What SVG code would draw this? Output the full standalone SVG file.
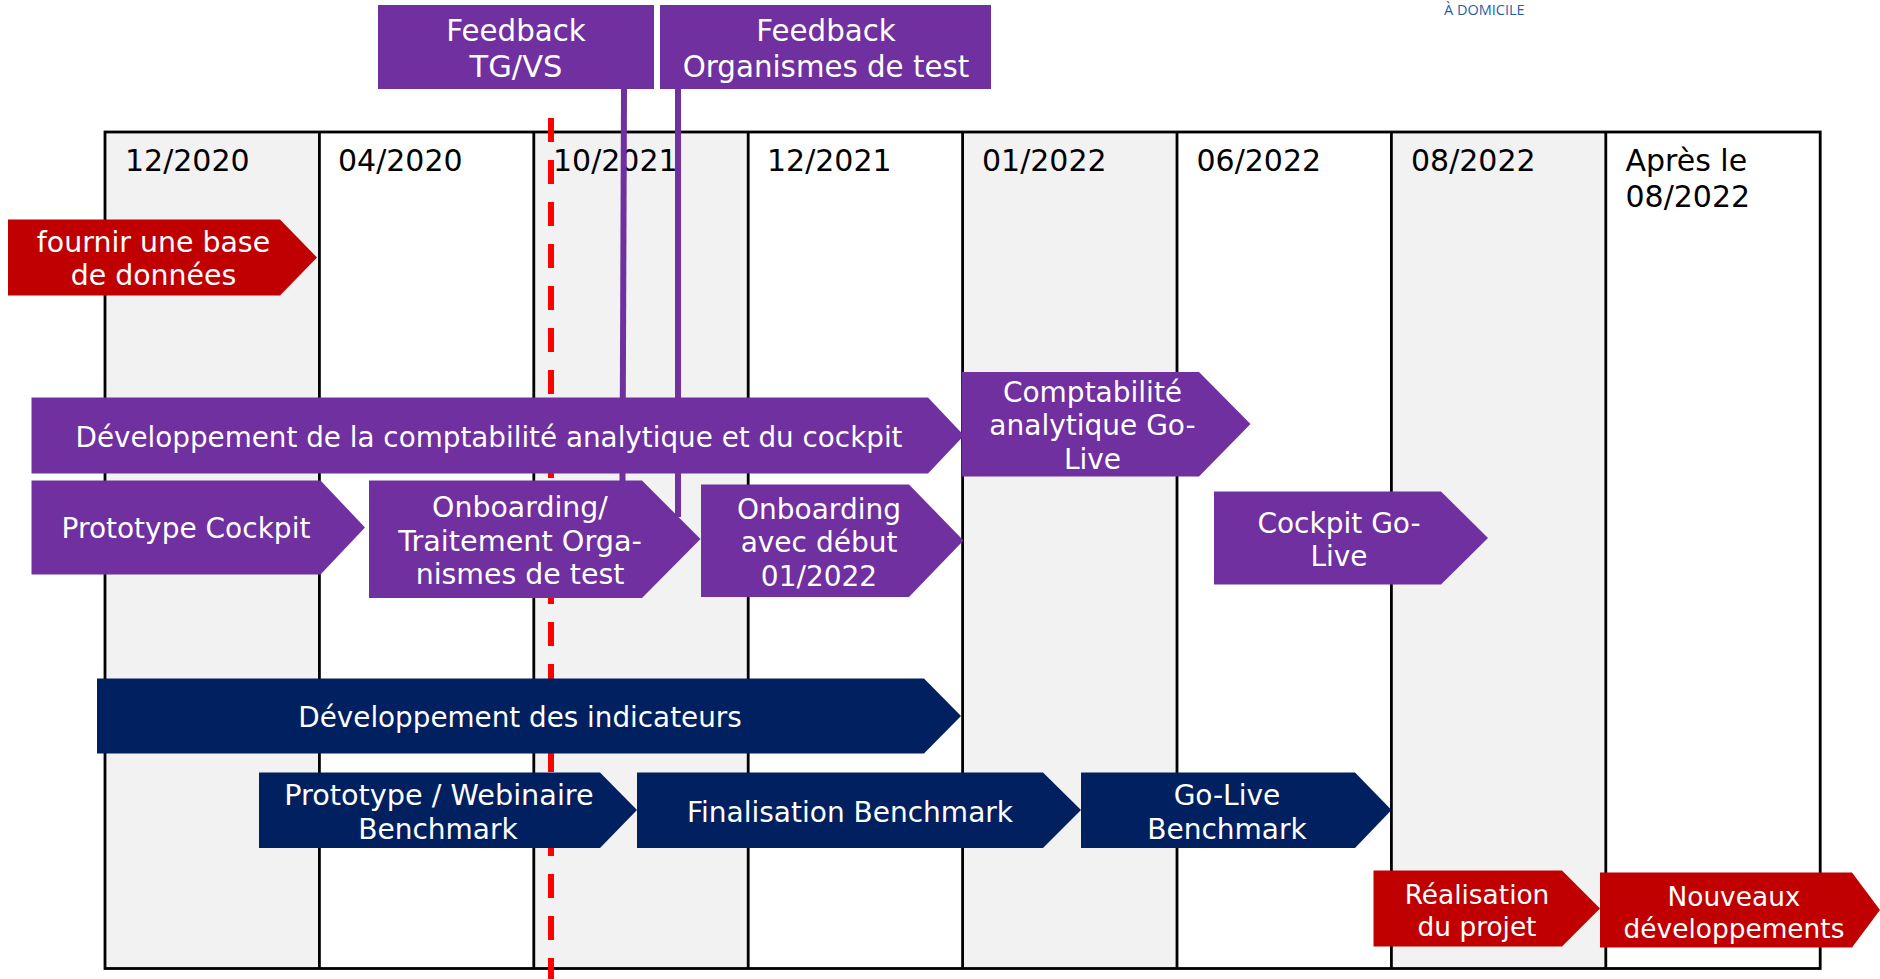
<svg xmlns="http://www.w3.org/2000/svg" width="1880" height="979" viewBox="0 0 1880 979">
<style>
text{font-family:"DejaVu Sans","Liberation Sans",sans-serif}
.d{font-size:30px;fill:#000}
.w{font-size:28px;fill:#fff;text-anchor:middle}
.s{font-size:26.4px;fill:#fff;text-anchor:middle}
.m{font-size:28.4px;fill:#fff;text-anchor:middle}
.f{font-size:29.3px;fill:#fff;text-anchor:middle}
.p{fill:#7030A0}.r{fill:#C00000}.n{fill:#002060}
.b{fill:#F2F2F2}
.g{stroke:#000;stroke-width:2.8;fill:none}
</style>
<rect width="1880" height="979" fill="#fff"/>
<text x="1444" y="15" style="font-family:'Open Sans',sans-serif;font-size:14.5px;fill:#1F5FA8">À DOMICILE</text>
<g id="grid">
<rect class="b" x="105" y="132" width="214.4" height="836.500"/>
<rect class="b" x="533.8" y="132" width="214.4" height="836.500"/>
<rect class="b" x="962.6" y="132" width="214.4" height="836.500"/>
<rect class="b" x="1391.4" y="132" width="214.4" height="836.500"/>
<rect class="g" x="105" y="132" width="1715.2" height="836.500"/>
<path class="g" d="M319.4 132V968.500M533.8 132V968.500M748.2 132V968.500M962.6 132V968.500M1177 132V968.500M1391.4 132V968.500M1605.8 132V968.500"/>
<text class="d" x="125" y="171">12/2020</text>
<text class="d" x="338" y="171">04/2020</text>
<text class="d" x="553" y="171">10/2021</text>
<text class="d" x="767" y="171">12/2021</text>
<text class="d" x="982" y="171">01/2022</text>
<text class="d" x="1196.500" y="171">06/2022</text>
<text class="d" x="1411" y="171">08/2022</text>
<text class="d" x="1625.500" y="171">Après le</text>
<text class="d" x="1625.500" y="207">08/2022</text>
</g>
<g id="connectors" fill="none">
<path id="today" d="M551 118V979" stroke="#FF0000" stroke-width="6" stroke-dasharray="24 18"/>
<path id="fb1-line" d="M624 89L622.5 482" stroke="#7030A0" stroke-width="6"/>
<path id="fb2-line" d="M678 89V517" stroke="#7030A0" stroke-width="6"/>
</g>
<g id="feedback-tg"><rect class="p" x="378" y="5" width="276" height="84"/><text class="f" x="516" y="41">Feedback</text><text class="f" style="font-size:30.500px" x="516" y="77">TG/VS</text></g>
<g id="feedback-org"><rect class="p" x="660" y="5" width="331" height="84"/><text class="f" x="826" y="41">Feedback</text><text class="f" x="826" y="77">Organismes de test</text></g>
<g id="base"><path class="r" d="M8 219.500H280L317 257.500L280 295.500H8Z"/><text class="m" x="153.500" y="251.500">fournir une base</text><text class="m" x="153.500" y="285">de données</text></g>
<g id="dev-compta"><path class="p" d="M31.500 397.500H928L964 435.500L928 473.500H31.500Z"/><text class="w" style="font-size:27.800px" x="489" y="446.500">Développement de la comptabilité analytique et du cockpit</text></g>
<g id="proto-cockpit"><path class="p" d="M31.500 480.500H320.500L365 527.500L320.500 574.500H31.500Z"/><text class="w" x="186" y="538">Prototype Cockpit</text></g>
<g id="onboarding"><path class="p" d="M369 480.500H642L700.500 539L642 598H369Z"/><text class="m" x="520" y="517">Onboarding/</text><text class="w" style="font-size:28.700px" x="520" y="550.500">Traitement Orga-</text><text class="m" x="520" y="584">nismes de test</text></g>
<g id="onboarding-2"><path class="p" d="M701 484.500H909L963.500 540.500L909 597H701Z"/><text class="w" x="819" y="518.500">Onboarding</text><text class="w" x="819" y="552">avec début</text><text class="w" x="819" y="585.500">01/2022</text></g>
<g id="compta-golive"><path class="p" d="M962 372H1199L1250.500 424L1199 476.500H962Z"/><text class="w" x="1092.500" y="401.500">Comptabilité</text><text class="w" x="1092.500" y="435">analytique Go-</text><text class="w" x="1092.500" y="468.500">Live</text></g>
<g id="cockpit-golive"><path class="p" d="M1214 491.500H1441L1488 538L1441 584.500H1214Z"/><text class="w" x="1339" y="532.500">Cockpit Go-</text><text class="w" x="1339" y="565.500">Live</text></g>
<g id="dev-indic"><path class="n" d="M97 678.500H924L961 716L924 753.500H97Z"/><text class="w" style="font-size:27.800px" x="520" y="727">Développement des indicateurs</text></g>
<g id="proto-bench"><path class="n" d="M259 772.500H600L637 810L600 848H259Z"/><text class="w" style="font-size:28.700px" x="439" y="804.500">Prototype / Webinaire</text><text class="w" x="438" y="838.500">Benchmark</text></g>
<g id="final-bench"><path class="n" d="M637 772.500H1043L1081 810L1043 848H637Z"/><text class="w" x="850" y="821.500">Finalisation Benchmark</text></g>
<g id="golive-bench"><path class="n" d="M1081 772.500H1355L1391.500 810L1355 848H1081Z"/><text class="w" x="1227" y="804.500">Go-Live</text><text class="w" x="1227" y="838.500">Benchmark</text></g>
<g id="realisation"><path class="r" d="M1373.500 870.500H1562L1600 908.500L1562 946.500H1373.500Z"/><text class="s" x="1477" y="903.500">Réalisation</text><text class="s" x="1477" y="936">du projet</text></g>
<g id="nouveaux"><path class="r" d="M1600 872.500H1852L1880 910L1852 947.500H1600Z"/><text class="s" x="1734" y="905.500">Nouveaux</text><text class="s" x="1734" y="938">développements</text></g>
</svg>
